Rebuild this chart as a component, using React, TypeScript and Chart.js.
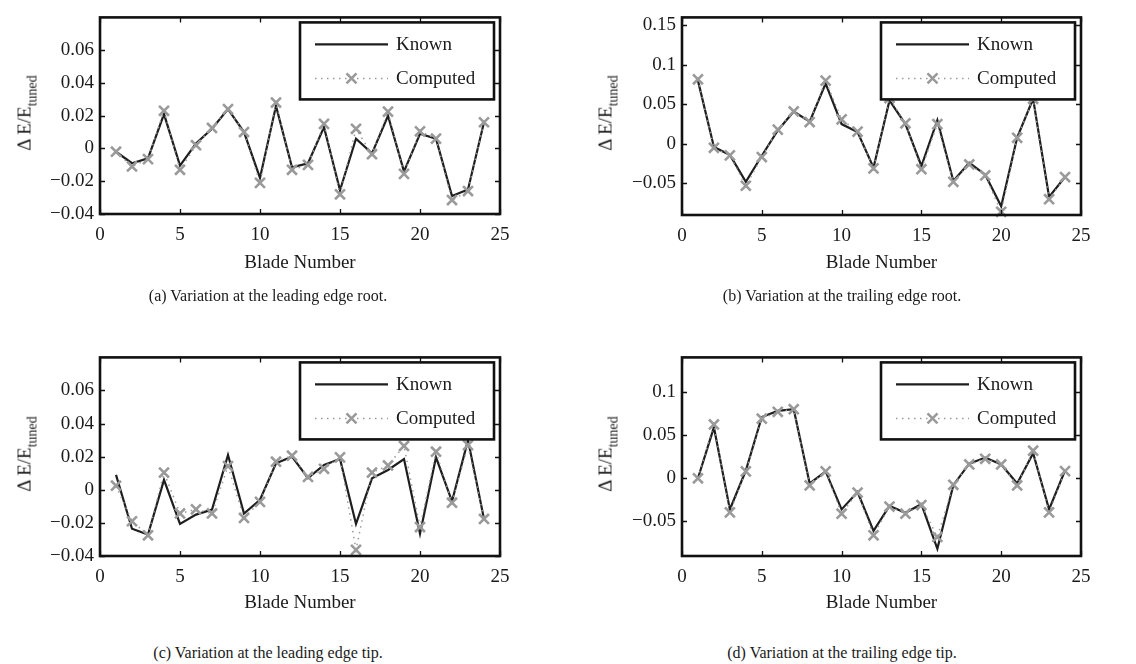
import React, { useEffect, useRef } from "react";
import { Chart, registerables } from "chart.js";

Chart.register(...registerables);

// ---------------- data ----------------
const blades = [1, 2, 3, 4, 5, 6, 7, 8, 9, 10, 11, 12, 13, 14, 15, 16, 17, 18, 19, 20, 21, 22, 23, 24];
const seriesLabels = ["Known", "Computed"];
const xTicks = [0, 5, 10, 15, 20, 25];
const xTitle = "Blade Number";
const yTitleMain = "\u0394 E/E";
const yTitleSub = "tuned";

const knownA = [-0.002, -0.009, -0.006, 0.021, -0.0105, 0.003, 0.012, 0.024, 0.01, -0.018, 0.026, -0.0115, -0.009, 0.013, -0.0255, 0.006, -0.003, 0.02, -0.014, 0.009, 0.006, -0.029, -0.025, 0.016];
const computedA = [-0.002, -0.011, -0.0065, 0.023, -0.013, 0.002, 0.0125, 0.024, 0.01, -0.021, 0.028, -0.013, -0.01, 0.015, -0.028, 0.012, -0.0035, 0.0225, -0.0155, 0.0105, 0.006, -0.0315, -0.026, 0.016];
const yTicksA = [-0.04, -0.02, 0, 0.02, 0.04, 0.06];

const knownB = [0.08, -0.004, -0.014, -0.048, -0.015, 0.017, 0.041, 0.028, 0.0764, 0.025, 0.015, -0.03, 0.055, 0.025, -0.028, 0.03, -0.047, -0.024, -0.039, -0.079, 0.008, 0.057, -0.067, -0.042];
const computedB = [0.0817, -0.005, -0.0146, -0.053, -0.0167, 0.018, 0.041, 0.0276, 0.08, 0.031, 0.0155, -0.031, 0.058, 0.026, -0.032, 0.025, -0.048, -0.026, -0.04, -0.086, 0.0077, 0.057, -0.07, -0.042];
const yTicksB = [-0.05, 0, 0.05, 0.1, 0.15];

const knownC = [0.009, -0.0235, -0.027, 0.006, -0.0206, -0.015, -0.012, 0.021, -0.0143, -0.006, 0.016, 0.02, 0.007, 0.015, 0.0186, -0.0206, 0.0069, 0.012, 0.0186, -0.0265, 0.0196, -0.007, 0.03, -0.0176];
const computedC = [0.0025, -0.019, -0.0275, 0.0104, -0.0143, -0.0118, -0.0143, 0.0143, -0.017, -0.0073, 0.017, 0.0206, 0.0078, 0.0127, 0.0196, -0.0363, 0.0104, 0.0147, 0.0265, -0.0225, 0.023, -0.0078, 0.027, -0.0176];
const yTicksC = [-0.04, -0.02, 0, 0.02, 0.04, 0.06];

const knownD = [0.0, 0.059, -0.036, 0.009, 0.071, 0.078, 0.08, -0.006, 0.008, -0.036, -0.016, -0.061, -0.032, -0.04, -0.03, -0.0816, -0.008, 0.017, 0.024, 0.016, -0.006, 0.029, -0.036, 0.009];
const computedD = [0.0, 0.0624, -0.0395, 0.008, 0.069, 0.077, 0.08, -0.0083, 0.008, -0.041, -0.0165, -0.066, -0.0327, -0.041, -0.031, -0.068, -0.0075, 0.016, 0.0226, 0.016, -0.0083, 0.032, -0.0395, 0.0083];
const yTicksD = [-0.05, 0, 0.05, 0.1];

const captionA = "(a) Variation at the leading edge root.";
const captionB = "(b) Variation at the trailing edge root.";
const captionC = "(c) Variation at the leading edge tip.";
const captionD = "(d) Variation at the trailing edge tip.";

// ---------------- styles / layout ----------------
const FONT_FAMILY = "'Liberation Serif', 'Times New Roman', 'DejaVu Serif', serif";
const FONT_SIZE = 19;
const TEXT_COLOR = "#1a1a1a";
const KNOWN_COLOR = "#1e1e1e";
const COMP_COLOR = "#9a9a9a";

const panels = [
  {
    known: knownA, computed: computedA, yMin: -0.04, yMax: 0.08, yTicks: yTicksA, caption: captionA,
    canvas: { x: 0, y: 0, w: 568, h: 290 }, plot: { l: 100, t: 12, r: 500, b: 214 },
    xTitleY: 263, yTitlePos: { x: 24, y: 113 }, captionPos: { x: 268, y: 296 },
  },
  {
    known: knownB, computed: computedB, yMin: -0.09, yMax: 0.16, yTicks: yTicksB, caption: captionB,
    canvas: { x: 568, y: 0, w: 568, h: 290 }, plot: { l: 682, t: 12, r: 1081, b: 215 },
    xTitleY: 263, yTitlePos: { x: 605, y: 113 }, captionPos: { x: 842, y: 296 },
  },
  {
    known: knownC, computed: computedC, yMin: -0.04, yMax: 0.08, yTicks: yTicksC, caption: captionC,
    canvas: { x: 0, y: 340, w: 568, h: 290 }, plot: { l: 100, t: 352, r: 500, b: 556 },
    xTitleY: 603, yTitlePos: { x: 24, y: 454 }, captionPos: { x: 268, y: 653 },
  },
  {
    known: knownD, computed: computedD, yMin: -0.09, yMax: 0.14, yTicks: yTicksD, caption: captionD,
    canvas: { x: 568, y: 340, w: 568, h: 290 }, plot: { l: 682, t: 352, r: 1081, b: 556 },
    xTitleY: 603, yTitlePos: { x: 605, y: 454 }, captionPos: { x: 842, y: 653 },
  },
];

function fmtTick(v: number): string {
  if (Math.abs(v) < 1e-12) return "0";
  const s = String(Math.round(Math.abs(v) * 1000) / 1000);
  return v < 0 ? "\u2212" + s : s;
}

const framePlugin = {
  id: "matlabFrame",
  afterDraw(chart: any, _args: any, opts: any) {
    const { ctx, chartArea } = chart;
    const { left, top, right, bottom } = chartArea;
    const xs = chart.scales.x;
    const ys = chart.scales.y;
    ctx.save();
    // inward tick marks on all four sides
    ctx.strokeStyle = "#111";
    ctx.lineWidth = 1.3;
    const TL = 5;
    ctx.beginPath();
    for (const v of xTicks) {
      const px = Math.round(xs.getPixelForValue(v)) + 0.5;
      ctx.moveTo(px, bottom);
      ctx.lineTo(px, bottom - TL);
      ctx.moveTo(px, top);
      ctx.lineTo(px, top + TL);
    }
    for (const v of opts.yTicks as number[]) {
      const py = Math.round(ys.getPixelForValue(v)) + 0.5;
      ctx.moveTo(left, py);
      ctx.lineTo(left + TL, py);
      ctx.moveTo(right, py);
      ctx.lineTo(right - TL, py);
    }
    ctx.stroke();
    // axes box
    ctx.lineWidth = 2.6;
    ctx.strokeRect(left, top, right - left, bottom - top);

    // legend box
    const bw = 194, bh = 77;
    const bx = right - 6 - bw;
    const by = top + 5;
    ctx.fillStyle = "#fff";
    ctx.fillRect(bx, by, bw, bh);
    ctx.lineWidth = 2.6;
    ctx.strokeStyle = "#111";
    ctx.strokeRect(bx, by, bw, bh);

    const ds = chart.data.datasets;
    const r1 = by + 22;
    const r2 = by + 56;
    // Known sample
    ctx.strokeStyle = KNOWN_COLOR;
    ctx.lineWidth = 2.2;
    ctx.beginPath();
    ctx.moveTo(bx + 15, r1);
    ctx.lineTo(bx + 88, r1);
    ctx.stroke();
    // Computed sample
    ctx.strokeStyle = COMP_COLOR;
    ctx.lineWidth = 1.5;
    ctx.setLineDash([1.5, 4.5]);
    ctx.beginPath();
    ctx.moveTo(bx + 15, r2);
    ctx.lineTo(bx + 88, r2);
    ctx.stroke();
    ctx.setLineDash([]);
    ctx.lineWidth = 2.6;
    const mx = bx + 51.5, m = 5;
    ctx.beginPath();
    ctx.moveTo(mx - m, r2 - m);
    ctx.lineTo(mx + m, r2 + m);
    ctx.moveTo(mx - m, r2 + m);
    ctx.lineTo(mx + m, r2 - m);
    ctx.stroke();

    ctx.fillStyle = TEXT_COLOR;
    ctx.font = `${FONT_SIZE}px ${FONT_FAMILY}`;
    ctx.textAlign = "left";
    ctx.textBaseline = "middle";
    ctx.fillText(ds[0].label, bx + 96, r1 + 1);
    ctx.fillText(ds[1].label, bx + 96, r2 + 1);
    ctx.restore();
  },
};

function Panel({ p }: { p: any }) {
  const ref = useRef<HTMLCanvasElement | null>(null);
  useEffect(() => {
    if (!ref.current) return;
    const c = p.canvas;
    const pl = p.plot;
    const yAxisW = pl.l - c.x;
    const xAxisH = c.y + c.h - pl.b;
    const padRight = c.x + c.w - pl.r;
    const padTop = pl.t - c.y;
    const lh = FONT_SIZE * 1.2;
    const titlePadBottom = c.y + c.h - p.xTitleY - lh / 2;
    const font = { family: FONT_FAMILY, size: FONT_SIZE, lineHeight: 1.2 };
    const chart = new Chart(ref.current, {
      type: "line",
      data: {
        datasets: [
          {
            label: seriesLabels[0],
            data: blades.map((b, i) => ({ x: b, y: p.known[i] })),
            borderColor: KNOWN_COLOR,
            borderWidth: 2.2,
            pointRadius: 0,
            tension: 0,
            order: 1,
            clip: 10,
          },
          {
            label: seriesLabels[1],
            data: blades.map((b, i) => ({ x: b, y: p.computed[i] })),
            borderColor: COMP_COLOR,
            borderWidth: 1.5,
            borderDash: [1.5, 4.5],
            pointStyle: "crossRot",
            pointRadius: 7,
            pointBorderWidth: 2.6,
            pointBorderColor: COMP_COLOR,
            pointBackgroundColor: COMP_COLOR,
            tension: 0,
            order: 0,
            clip: 10,
          },
        ],
      } as any,
      options: {
        animation: false,
        responsive: false,
        maintainAspectRatio: false,
        devicePixelRatio: 1,
        events: [],
        layout: { padding: { left: 0, right: padRight, top: padTop, bottom: 0 } },
        plugins: {
          legend: { display: false },
          tooltip: { enabled: false },
          matlabFrame: { yTicks: p.yTicks },
        } as any,
        scales: {
          x: {
            type: "linear",
            min: 0,
            max: 25,
            afterBuildTicks: (s: any) => {
              s.ticks = xTicks.map((v) => ({ value: v }));
            },
            afterFit: (s: any) => {
              s.height = xAxisH;
            },
            grid: { display: false, drawTicks: false },
            border: { display: false },
            ticks: {
              padding: 10,
              font,
              color: TEXT_COLOR,
              maxRotation: 0,
              autoSkip: false,
              callback: (v: any) => String(v),
            },
            title: {
              display: true,
              text: xTitle,
              font,
              color: TEXT_COLOR,
              padding: { top: 0, bottom: titlePadBottom },
            },
          },
          y: {
            type: "linear",
            min: p.yMin,
            max: p.yMax,
            afterBuildTicks: (s: any) => {
              s.ticks = p.yTicks.map((v: number) => ({ value: v }));
            },
            afterFit: (s: any) => {
              s.width = yAxisW;
            },
            grid: { display: false, drawTicks: false },
            border: { display: false },
            ticks: {
              padding: 6,
              font,
              color: TEXT_COLOR,
              autoSkip: false,
              callback: (v: any) => fmtTick(Number(v)),
            },
          },
        } as any,
      },
      plugins: [framePlugin],
    });
    return () => chart.destroy();
  }, []);

  const c = p.canvas;
  return (
    <>
      <canvas
        ref={ref}
        width={c.w}
        height={c.h}
        style={{ position: "absolute", left: c.x, top: c.y, width: c.w, height: c.h }}
      />
      <div
        style={{
          position: "absolute",
          left: p.yTitlePos.x,
          top: p.yTitlePos.y,
          transform: "translate(-50%, -50%) rotate(-90deg)",
          whiteSpace: "nowrap",
          fontFamily: FONT_FAMILY,
          fontSize: FONT_SIZE,
          color: TEXT_COLOR,
          lineHeight: 1,
        }}
      >
        {yTitleMain}
        <span style={{ fontSize: 14, position: "relative", top: 6 }}>{yTitleSub}</span>
      </div>
      <div
        style={{
          position: "absolute",
          left: p.captionPos.x,
          top: p.captionPos.y,
          transform: "translate(-50%, -50%)",
          whiteSpace: "nowrap",
          fontFamily: FONT_FAMILY,
          fontSize: 16,
          color: TEXT_COLOR,
          lineHeight: 1,
        }}
      >
        {p.caption}
      </div>
    </>
  );
}

export default function App() {
  return (
    <div
      style={{
        position: "absolute",
        left: 0,
        top: 0,
        width: 1136,
        height: 664,
        background: "#fff",
        overflow: "hidden",
      }}
    >
      {panels.map((p, i) => (
        <Panel key={i} p={p} />
      ))}
    </div>
  );
}
